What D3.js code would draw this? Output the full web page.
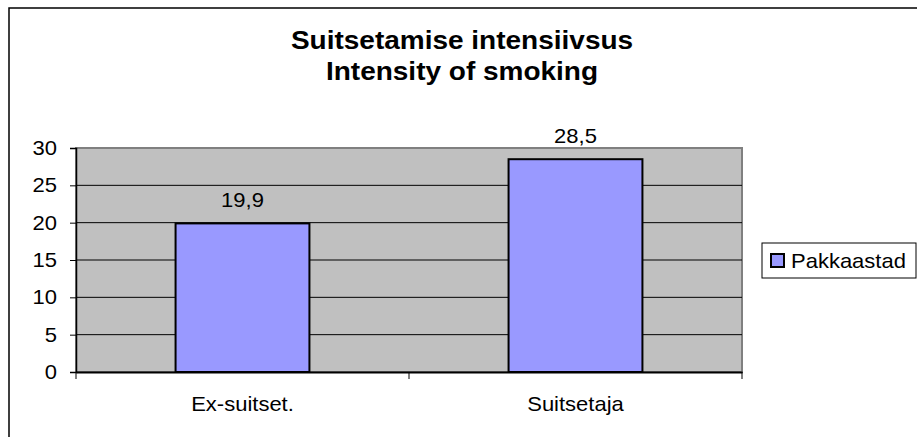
<!DOCTYPE html>
<html>
<head>
<meta charset="utf-8">
<script src="https://cdn.jsdelivr.net/npm/d3@7"></script>
<style>
  body { margin: 0; background: #fff; }
  text { font-family: "Liberation Sans", Arial, sans-serif; fill: #000; }
</style>
</head>
<body>
<svg id="chart" width="917" height="437"></svg>
<script>
// data
const categories = ['Ex-suitset.', 'Suitsetaja'];
const values = [19.9, 28.5];
const valueLabels = ['19,9', '28,5'];
const yTicks = [0, 5, 10, 15, 20, 25, 30];
const seriesName = 'Pakkaastad';
const titleLines = ['Suitsetamise intensiivsus', 'Intensity of smoking'];

const svg = d3.select('#chart');
const plot = {left: 76, right: 742, top: 148, bottom: 372};

// helper for slightly widened text (original text is wider than tall)
function addText(x, y, str, size, anchor, weight, stretch) {
    return svg.append('text')
        .attr('transform', `translate(${x},${y}) scale(${stretch || 1.1},1)`)
        .attr('text-anchor', anchor)
        .style('font-size', size + 'px')
        .style('font-weight', weight || 'normal')
        .text(str);
}

// outer chart border (right/bottom run off the picture)
svg.append('rect')
    .attr('x', 9).attr('y', 8)
    .attr('width', 920).attr('height', 440)
    .attr('fill', 'none')
    .attr('stroke', '#000')
    .attr('stroke-width', 1.5);

// title
titleLines.forEach((t, i) => addText(462, 49 + i * 31, t, 25, 'middle', 'bold', 1.12));

const x = d3.scaleBand()
    .domain(categories)
    .range([plot.left, plot.right])
    .padding(0);

const y = d3.scaleLinear()
    .domain([0, 30])
    .range([plot.bottom, plot.top]);

// plot background
svg.append('rect')
    .attr('x', plot.left).attr('y', plot.top)
    .attr('width', plot.right - plot.left)
    .attr('height', plot.bottom - plot.top)
    .attr('fill', '#c0c0c0')
    .attr('stroke', '#808080')
    .attr('stroke-width', 2);

// gridlines
svg.selectAll('line.grid')
    .data(yTicks.filter(d => d > 0 && d < 30))
    .enter()
    .append('line')
    .attr('class', 'grid')
    .attr('x1', plot.left).attr('x2', plot.right)
    .attr('y1', d => y(d)).attr('y2', d => y(d))
    .attr('stroke', '#000')
    .attr('stroke-width', 1);

// y axis
const yAxis = svg.append('g')
    .attr('transform', `translate(${plot.left},0)`)
    .call(d3.axisLeft(y).tickValues(yTicks).tickSize(6).tickFormat(''));
yAxis.select('.domain').attr('stroke', '#000').attr('stroke-width', 1.5);
yAxis.selectAll('.tick line').attr('stroke', '#000');
yTicks.forEach(t => addText(57, y(t) + 7, String(t), 20, 'end'));

// x axis
const xAxis = svg.append('g')
    .attr('transform', `translate(0,${plot.bottom})`)
    .call(d3.axisBottom(x).tickSize(0).tickFormat(''));
xAxis.select('.domain').attr('stroke', '#000').attr('stroke-width', 2);
svg.selectAll('line.xtick')
    .data([plot.left, ...categories.map(c => x(c) + x.bandwidth())])
    .enter()
    .append('line')
    .attr('class', 'xtick')
    .attr('x1', d => d).attr('x2', d => d)
    .attr('y1', plot.bottom).attr('y2', plot.bottom + 7)
    .attr('stroke', '#000');
categories.forEach(c => addText(x(c) + x.bandwidth() / 2, 411, c, 20, 'middle'));

// bars
const barW = x.bandwidth() * 0.402;
svg.selectAll('rect.bar')
    .data(values)
    .enter()
    .append('rect')
    .attr('class', 'bar')
    .attr('x', (d, i) => x(categories[i]) + (x.bandwidth() - barW) / 2)
    .attr('y', d => y(d))
    .attr('width', barW)
    .attr('height', d => y(0) - y(d))
    .attr('fill', '#9999ff')
    .attr('stroke', '#000')
    .attr('stroke-width', 2);

// value labels
values.forEach((v, i) => addText(x(categories[i]) + x.bandwidth() / 2, y(v) - 16, valueLabels[i], 20, 'middle'));

// legend
svg.append('rect')
    .attr('x', 762).attr('y', 243)
    .attr('width', 154).attr('height', 35)
    .attr('fill', '#fff')
    .attr('stroke', '#000')
    .attr('stroke-width', 1);
svg.append('rect')
    .attr('x', 771).attr('y', 254)
    .attr('width', 13).attr('height', 13)
    .attr('fill', '#9999ff')
    .attr('stroke', '#000')
    .attr('stroke-width', 2);
addText(791, 268, seriesName, 20, 'start');
</script>
</body>
</html>
